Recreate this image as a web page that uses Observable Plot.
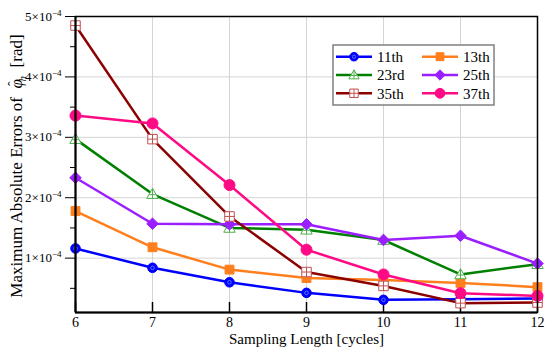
<!DOCTYPE html>
<html>
<head>
<meta charset="utf-8">
<script src="https://cdn.jsdelivr.net/npm/d3@7"></script>
<script src="https://cdn.jsdelivr.net/npm/@observablehq/plot@0.6"></script>
<style>
  html, body { margin: 0; padding: 0; background: white; }
  #chart { width: 550px; height: 357px; }
</style>
</head>
<body>
<div id="chart"></div>
<script>
// ---- Data ----
const lengths = [6, 7, 8, 9, 10, 11, 12];
const seriesNames = ["11th", "13th", "23rd", "25th", "35th", "37th"];
const err11 = [1.16e-4, 0.84e-4, 0.60e-4, 0.425e-4, 0.31e-4, 0.32e-4, 0.33e-4];
const err13 = [1.78e-4, 1.18e-4, 0.81e-4, 0.67e-4, 0.64e-4, 0.59e-4, 0.52e-4];
const err23 = [2.97e-4, 2.06e-4, 1.50e-4, 1.47e-4, 1.30e-4, 0.73e-4, 0.90e-4];
const err25 = [2.33e-4, 1.57e-4, 1.56e-4, 1.56e-4, 1.30e-4, 1.37e-4, 0.91e-4];
const err35 = [4.85e-4, 2.97e-4, 1.69e-4, 0.77e-4, 0.54e-4, 0.255e-4, 0.265e-4];
const err37 = [3.36e-4, 3.23e-4, 2.21e-4, 1.14e-4, 0.73e-4, 0.42e-4, 0.375e-4];
const xTicks = [6, 7, 8, 9, 10, 11, 12];
const yMajorTicks = [1e-4, 2e-4, 3e-4, 4e-4, 5e-4];
const yMajorMantissa = ["1", "2", "3", "4", "5"];
const yExponent = "−4";
const yMinorTicks = [0.5e-4, 1.5e-4, 2.5e-4, 3.5e-4, 4.5e-4];

const allSeries = [err11, err13, err23, err25, err35, err37];
const data = seriesNames.flatMap((name, i) =>
  lengths.map((x, j) => ({series: name, x, y: allSeries[i][j]})));

// ---- Styling ----
const SERIF = "'Liberation Serif', 'Times New Roman', serif";
const lineColor = {
  "11th": "#0000ff", "13th": "#ff7f1e", "23rd": "#008000",
  "25th": "#9b1eff", "35th": "#8b0000", "37th": "#ff0a85"
};

// custom symbols
const trianglePlus = {
  draw(ctx, size) {
    const r = Math.sqrt(size / Math.PI);
    const h = r * 1.15;
    ctx.moveTo(0, -h);
    ctx.lineTo(h, h * 0.75);
    ctx.lineTo(-h, h * 0.75);
    ctx.closePath();
    ctx.moveTo(0, -h);
    ctx.lineTo(0, h * 0.75);
    ctx.moveTo(-h * 0.55, h * 0.1);
    ctx.lineTo(h * 0.55, h * 0.1);
  }
};
const squarePlus = {
  draw(ctx, size) {
    const s = Math.sqrt(size / Math.PI) * 0.95;
    ctx.moveTo(-s, -s); ctx.lineTo(s, -s); ctx.lineTo(s, s); ctx.lineTo(-s, s); ctx.closePath();
    ctx.moveTo(0, -s); ctx.lineTo(0, s);
    ctx.moveTo(-s, 0); ctx.lineTo(s, 0);
  }
};

const markerStyle = {
  "11th": {symbol: "circle", r: 4.8, fill: "#0000ff", stroke: "#0000ff", strokeWidth: 1},
  "13th": {symbol: "square", r: 5, fill: "#ff7f1e", stroke: "#ff7f1e", strokeWidth: 1},
  "23rd": {symbol: trianglePlus, r: 5, fill: "white", stroke: "#4cb04c", strokeWidth: 1},
  "25th": {symbol: "diamond2", r: 5.2, fill: "#9b1eff", stroke: "#9b1eff", strokeWidth: 1},
  "35th": {symbol: squarePlus, r: 5, fill: "white", stroke: "#c05050", strokeWidth: 1},
  "37th": {symbol: "circle", r: 5.5, fill: "#ff0a85", stroke: "#ff0a85", strokeWidth: 1}
};

const yMin = 0.1e-4, yMax = 5e-4;
const H = 357, mT = 16, mB = 45;

const marks = [
  Plot.gridX(xTicks.slice(1, -1), {stroke: "#d4d4d4", strokeOpacity: 1, strokeWidth: 1}),
  Plot.gridY(yMajorTicks.slice(0, -1), {stroke: "#d4d4d4", strokeOpacity: 1, strokeWidth: 1}),
  Plot.axisX(xTicks, {tickSize: 0, tickPadding: 5, fontSize: 14, label: null, tickFormat: d => String(d)}),
  Plot.tickX(xTicks, {x: d => d, insetTop: H - mT - mB - 10, stroke: "black", strokeWidth: 1.5}),
  Plot.axisY(yMajorTicks, {tickSize: 10, tickPadding: 4, fontSize: 13, label: null,
    tickFormat: d => yMajorMantissa[yMajorTicks.indexOf(d)] + "×10" + yExponent, stroke: "black"}),
  Plot.axisY(yMinorTicks, {tickSize: 5, tickFormat: () => "", label: null, stroke: "black"}),
  Plot.text(["Sampling Length [cycles]"], {frameAnchor: "bottom", dy: 31, text: d => d, fontSize: 15, fill: "black"})
];
for (const name of seriesNames) {
  const d = data.filter(r => r.series === name);
  marks.push(Plot.line(d, {x: "x", y: "y", stroke: lineColor[name], strokeWidth: 2.5}));
  const m = markerStyle[name];
  marks.push(Plot.dot(d, {x: "x", y: "y", ...m}));
  if (name === "11th") {
    marks.push(Plot.dot(d, {x: "x", y: "y", r: 1.8, fill: "none", stroke: "#7090ff", strokeWidth: 0.8}));
  }
}
marks.push(Plot.frame({stroke: "black", strokeWidth: 1.5}));
marks.push(Plot.ruleX([6], {stroke: "black", strokeWidth: 2}));
marks.push(Plot.ruleY([yMin], {stroke: "black", strokeWidth: 2}));

const chart = Plot.plot({
  width: 550, height: H,
  marginLeft: 75, marginRight: 13, marginTop: mT, marginBottom: mB,
  style: {fontFamily: SERIF, fontSize: "14px", background: "white", color: "black"},
  x: {domain: [6, 12]},
  y: {domain: [yMin, yMax]},
  marks
});
document.getElementById("chart").appendChild(chart);

const svg = d3.select(chart);

// ---- Superscript exponents on y tick labels ----
svg.selectAll("text").each(function () {
  const t = d3.select(this);
  const s = t.text();
  const m = s.match(/^(\d)×10(−4)$/);
  if (m) {
    t.text(null);
    t.append("tspan").style("font-size", "13px").text(m[1] + "×10");
    t.append("tspan").style("font-size", "9px").attr("dy", "-5").text(m[2]);
  }
});

// ---- Y axis title with math ----
const yt = svg.append("text")
  .attr("transform", "translate(16,166) rotate(-90)")
  .attr("text-anchor", "middle")
  .attr("dy", "0.35em")
  .style("font-family", SERIF)
  .attr("font-size", 17)
  .attr("fill", "black");
yt.append("tspan").text("Maximum Absolute Errors of  ");
yt.append("tspan").attr("font-style", "italic").text("φ");
yt.append("tspan").attr("dx", -7).attr("dy", -4).attr("font-size", 14).text("ˆ");
yt.append("tspan").attr("font-style", "italic").attr("font-size", 11).attr("dx", 0).attr("dy", 8).text("h");
yt.append("tspan").attr("dy", -4).text("  [rad]");

// ---- Legend ----
const lg = svg.append("g").style("font-family", SERIF).attr("font-size", 15);
lg.append("rect").attr("x", 333).attr("y", 45).attr("width", 161).attr("height", 60)
  .attr("fill", "white").attr("stroke", "#808080").attr("stroke-width", 1.5);
const rowsY = [56.7, 75, 93.3];
const colX = [336, 422];
seriesNames.forEach((name, i) => {
  const cx = colX[i % 2], cy = rowsY[Math.floor(i / 2)];
  const g = lg.append("g");
  g.append("line").attr("x1", cx).attr("x2", cx + 36).attr("y1", cy).attr("y2", cy)
    .attr("stroke", lineColor[name]).attr("stroke-width", 2.5);
  const m = markerStyle[name];
  let symType = m.symbol;
  if (symType === "circle") symType = d3.symbolCircle;
  else if (symType === "square") symType = d3.symbolSquare;
  else if (symType === "diamond2") symType = d3.symbolDiamond2;
  g.append("path").attr("transform", `translate(${cx + 18},${cy})`)
    .attr("d", d3.symbol(symType, Math.PI * m.r * m.r * 0.8)())
    .attr("fill", m.fill).attr("stroke", m.stroke).attr("stroke-width", m.strokeWidth);
  if (name === "11th") {
    g.append("circle").attr("cx", cx + 18).attr("cy", cy).attr("r", 1.6)
      .attr("fill", "none").attr("stroke", "#7090ff").attr("stroke-width", 0.8);
  }
  g.append("text").attr("x", cx + 41).attr("y", cy).attr("dy", "0.35em")
    .attr("text-anchor", "start").attr("fill", "black").text(name);
});
</script>
</body>
</html>
